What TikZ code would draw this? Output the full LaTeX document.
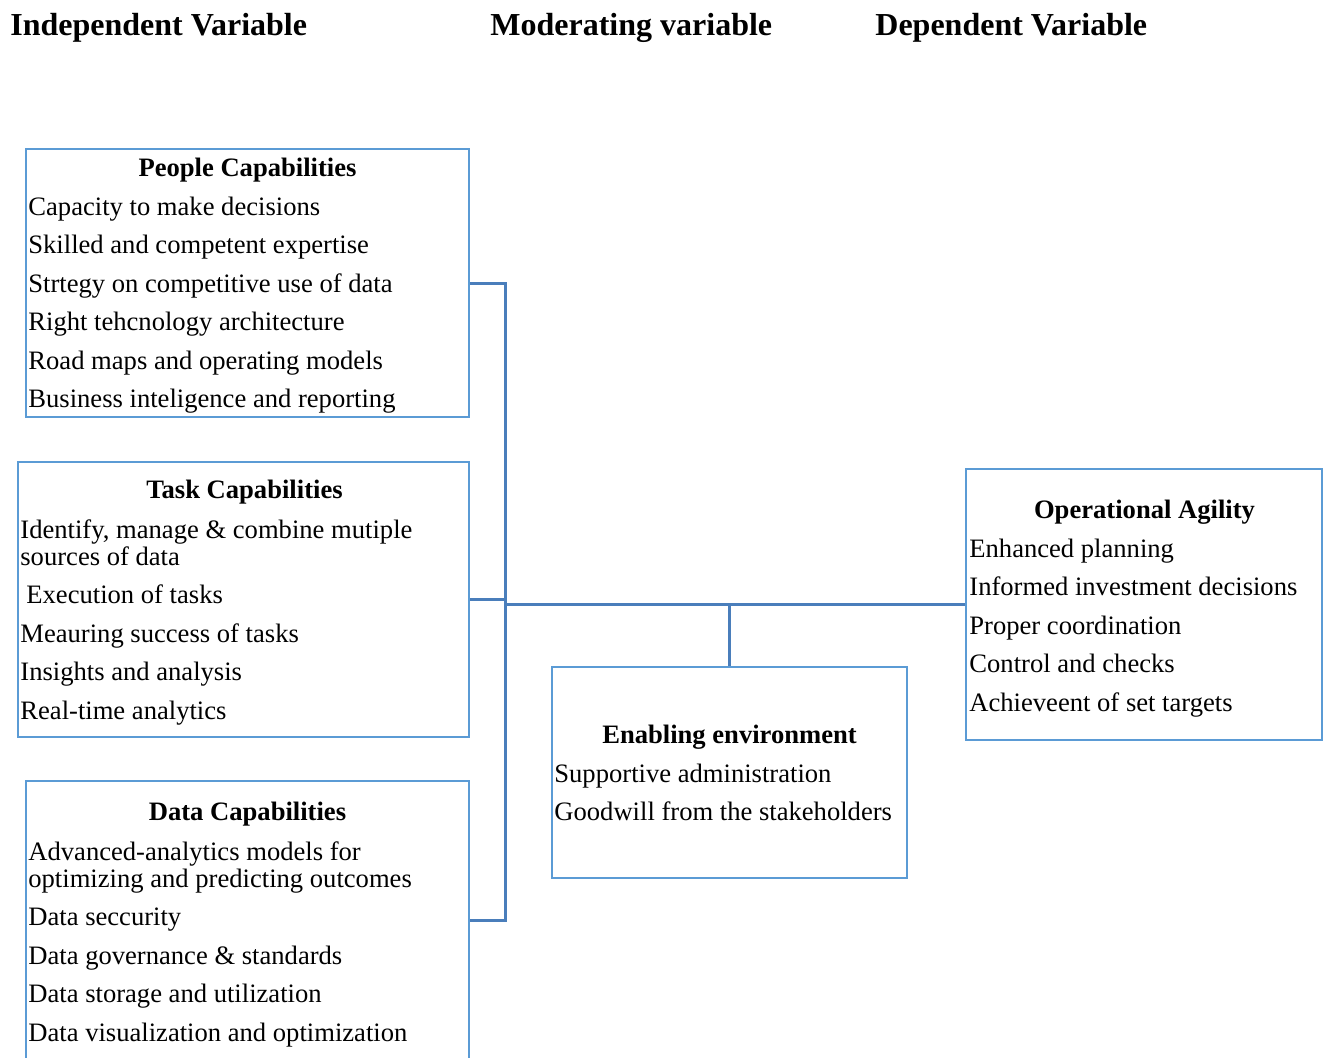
\documentclass[tikz,border=0pt]{standalone}
\usepackage{fontspec}
\setmainfont{Liberation Serif}
\usetikzlibrary{fit}
\definecolor{boxblue}{HTML}{5B9BD5}
\definecolor{lineblue}{HTML}{4A7EBB}
\begin{document}
\begin{tikzpicture}
[x=0.5pt,y=-0.5pt,
  boxdecorate/.style={draw=boxblue,line width=1pt,inner sep=0pt},%
  linedecorate/.style={-,draw=lineblue,line width=1.5pt},%
  itemdecorate/.style={anchor=base west,inner sep=0pt,font=\fontsize{13.3}{16}\selectfont},%
  titledecorate/.style={anchor=base,inner sep=0pt,font=\fontsize{13.3}{16}\selectfont\bfseries},%
  headdecorate/.style={anchor=base west,inner sep=0pt,font=\fontsize{16}{19}\selectfont\bfseries}]
\useasboundingbox (0,0) rectangle (1323,1057);
% headings
\node (indep) at (10,35) [headdecorate] {Independent Variable};
\node (moder) at (490,35) [headdecorate] {Moderating variable};
\node (dep) at (875,35) [headdecorate] {Dependent Variable};
% boxes
\node (people) [boxdecorate,fit={(26,149) (469,417)}] {};
\node (task) [boxdecorate,fit={(18,462) (469,737)}] {};
\node (data) [boxdecorate,fit={(26,781) (469,1059)}] {};
\node (enabling) [boxdecorate,fit={(552,667) (907,878)}] {};
\node (agility) [boxdecorate,fit={(966,469) (1322,740)}] {};
% people capabilities
\node (ptitle) at (247.5,176) [titledecorate] {People Capabilities};
\node (p1) at (28,215) [itemdecorate] {Capacity to make decisions};
\node (p2) at (28,253.5) [itemdecorate] {Skilled and competent expertise};
\node (p3) at (28,292) [itemdecorate] {Strtegy on competitive use of data};
\node (p4) at (28,330.5) [itemdecorate] {Right tehcnology architecture};
\node (p5) at (28,369) [itemdecorate] {Road maps and operating models};
\node (p6) at (28,407.5) [itemdecorate] {Business inteligence and reporting};
% task capabilities
\node (ttitle) at (244.5,498) [titledecorate] {Task Capabilities};
\node (t1) at (20,538) [itemdecorate] {Identify, manage \& combine mutiple};
\node (t2) at (20,565) [itemdecorate] {sources of data};
\node (t3) at (26,603.5) [itemdecorate] {Execution of tasks};
\node (t4) at (20,642) [itemdecorate] {Meauring success of tasks};
\node (t5) at (20,680.5) [itemdecorate] {Insights and analysis};
\node (t6) at (20,719) [itemdecorate] {Real-time analytics};
% data capabilities
\node (dtitle) at (247.5,820) [titledecorate] {Data Capabilities};
\node (d1) at (28,860) [itemdecorate] {Advanced-analytics models for};
\node (d2) at (28,887) [itemdecorate] {optimizing and predicting outcomes};
\node (d3) at (28,925.5) [itemdecorate] {Data seccurity};
\node (d4) at (28,964) [itemdecorate] {Data governance \& standards};
\node (d5) at (28,1002.5) [itemdecorate] {Data storage and utilization};
\node (d6) at (28,1041) [itemdecorate] {Data visualization and optimization};
% enabling environment
\node (etitle) at (729.5,743) [titledecorate] {Enabling environment};
\node (e1) at (554,782) [itemdecorate] {Supportive administration};
\node (e2) at (554,820.5) [itemdecorate] {Goodwill from the stakeholders};
% operational agility
\node (otitle) at (1144.5,518) [titledecorate] {Operational Agility};
\node (o1) at (969,557) [itemdecorate] {Enhanced planning};
\node (o2) at (969,595.5) [itemdecorate] {Informed investment decisions};
\node (o3) at (969,634) [itemdecorate] {Proper coordination};
\node (o4) at (969,672.5) [itemdecorate] {Control and checks};
\node (o5) at (969,711) [itemdecorate] {Achieveent of set targets};
% connectors
\coordinate (bustop) at (505,283);
\coordinate (busbot) at (505,920);
\coordinate (busmid) at (505,604.5);
\draw[linedecorate] (people.east) -- (bustop) -- (busbot) -- (data.east);
\draw[linedecorate] (task.east) -- (task.east -| bustop);
\draw[linedecorate] (busmid) -- (agility.west);
\draw[linedecorate] (enabling.north) -- (enabling.north |- agility.west);
\end{tikzpicture}
\end{document}
